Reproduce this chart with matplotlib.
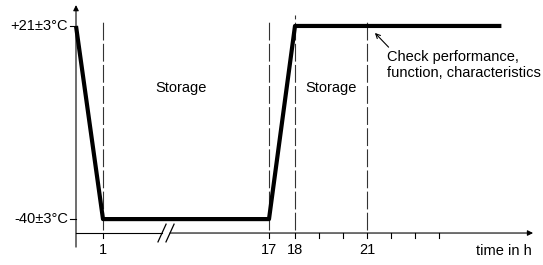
import numpy as np
import matplotlib.pyplot as plt

plt.rcParams['font.family'] = ['Liberation Sans', 'DejaVu Sans']
plt.rcParams['font.size'] = 10.5

# temperature profile: time in h, temperature in degC
time = [0, 1, 17, 18, 26.6]
temp = [21, -40, -40, 21, 21]

level_temps = [21, -40]
level_labels = ['+21±3°C', '-40±3°C']

tick_times = [1, 17, 18, 19, 20, 21, 22, 23, 24]
tick_labels = {1: '1', 17: '17', 18: '18', 21: '21'}
phase_times = [1, 17, 18, 21]
phase_tops = [22.8, 23.0, 24.5, 23.0]

storage_times = [8.5, 19.5]
storage_text = 'Storage'
check_text = 'Check performance,\nfunction, characteristics'

# broken time axis: 0-1 h and 17 h on are linear, 1-17 h squeezed
knots_t = [-10, 0, 1, 17, 18, 40]
knots_u = [-270, 0, 27, 193, 219, 747]


def fwd(t):
    return np.interp(t, knots_t, knots_u)


def inv(u):
    return np.interp(u, knots_u, knots_t)


fig = plt.figure(figsize=(5.43, 2.65), dpi=100)
ax = fig.add_axes([0, 0, 1, 1])
ax.set_xscale('function', functions=(fwd, inv))
ax.set_xlim(-76 / 27, 18 + (467 - 219) / 24)
ax.set_ylim(-54.5, 29.2)
ax.axis('off')

y_axis = -44.4
t_end = 27.92
brk = (6.69, 7.46)

# axes
ax.annotate('', xy=(0, 27.6), xytext=(0, -48.85),
            arrowprops=dict(arrowstyle='-|>', lw=0.8, color='black',
                            mutation_scale=8, shrinkA=0, shrinkB=0))
ax.plot([0, brk[0]], [y_axis, y_axis], color='black', lw=0.8)
ax.annotate('', xy=(t_end, y_axis), xytext=(brk[1], y_axis),
            arrowprops=dict(arrowstyle='-|>', lw=0.8, color='black',
                            mutation_scale=8, shrinkA=0, shrinkB=0))
for b in brk:
    ax.plot([b - 0.39, b + 0.39], [y_axis - 2.8, y_axis + 2.8],
            color='black', lw=0.9)

# ticks and labels
for t in tick_times:
    ax.plot([t, t], [y_axis, y_axis - 1.6], color='black', lw=0.8)
    if t in tick_labels:
        ax.text(t, -47.4, tick_labels[t], ha='center', va='top')
for v, lab in zip(level_temps, level_labels):
    ax.plot([-0.22, 0], [v, v], color='black', lw=0.8)
    ax.text(-0.3, v, lab, ha='right', va='center')
ax.text(27.87, -50.1, 'time in h', ha='right', va='center')

# phase markers
for t, top in zip(phase_times, phase_tops):
    ax.plot([t, t], [y_axis + 1, top], color='#333333', lw=0.8,
            linestyle=(0, (16, 3)))

# temperature profile
ax.plot(time, temp, color='black', lw=3, solid_capstyle='butt', zorder=5)

for t in storage_times:
    ax.text(t, 1.4, storage_text, ha='center', va='center')

ax.annotate('', xy=(21.33, 18.8), xytext=(21.9, 14.3),
            arrowprops=dict(arrowstyle='->', lw=0.8, color='black',
                            mutation_scale=8, shrinkA=0, shrinkB=0))
ax.text(21.83, 13.4, check_text, ha='left', va='top', linespacing=1.15)

fig.savefig('out.png', dpi=100)
